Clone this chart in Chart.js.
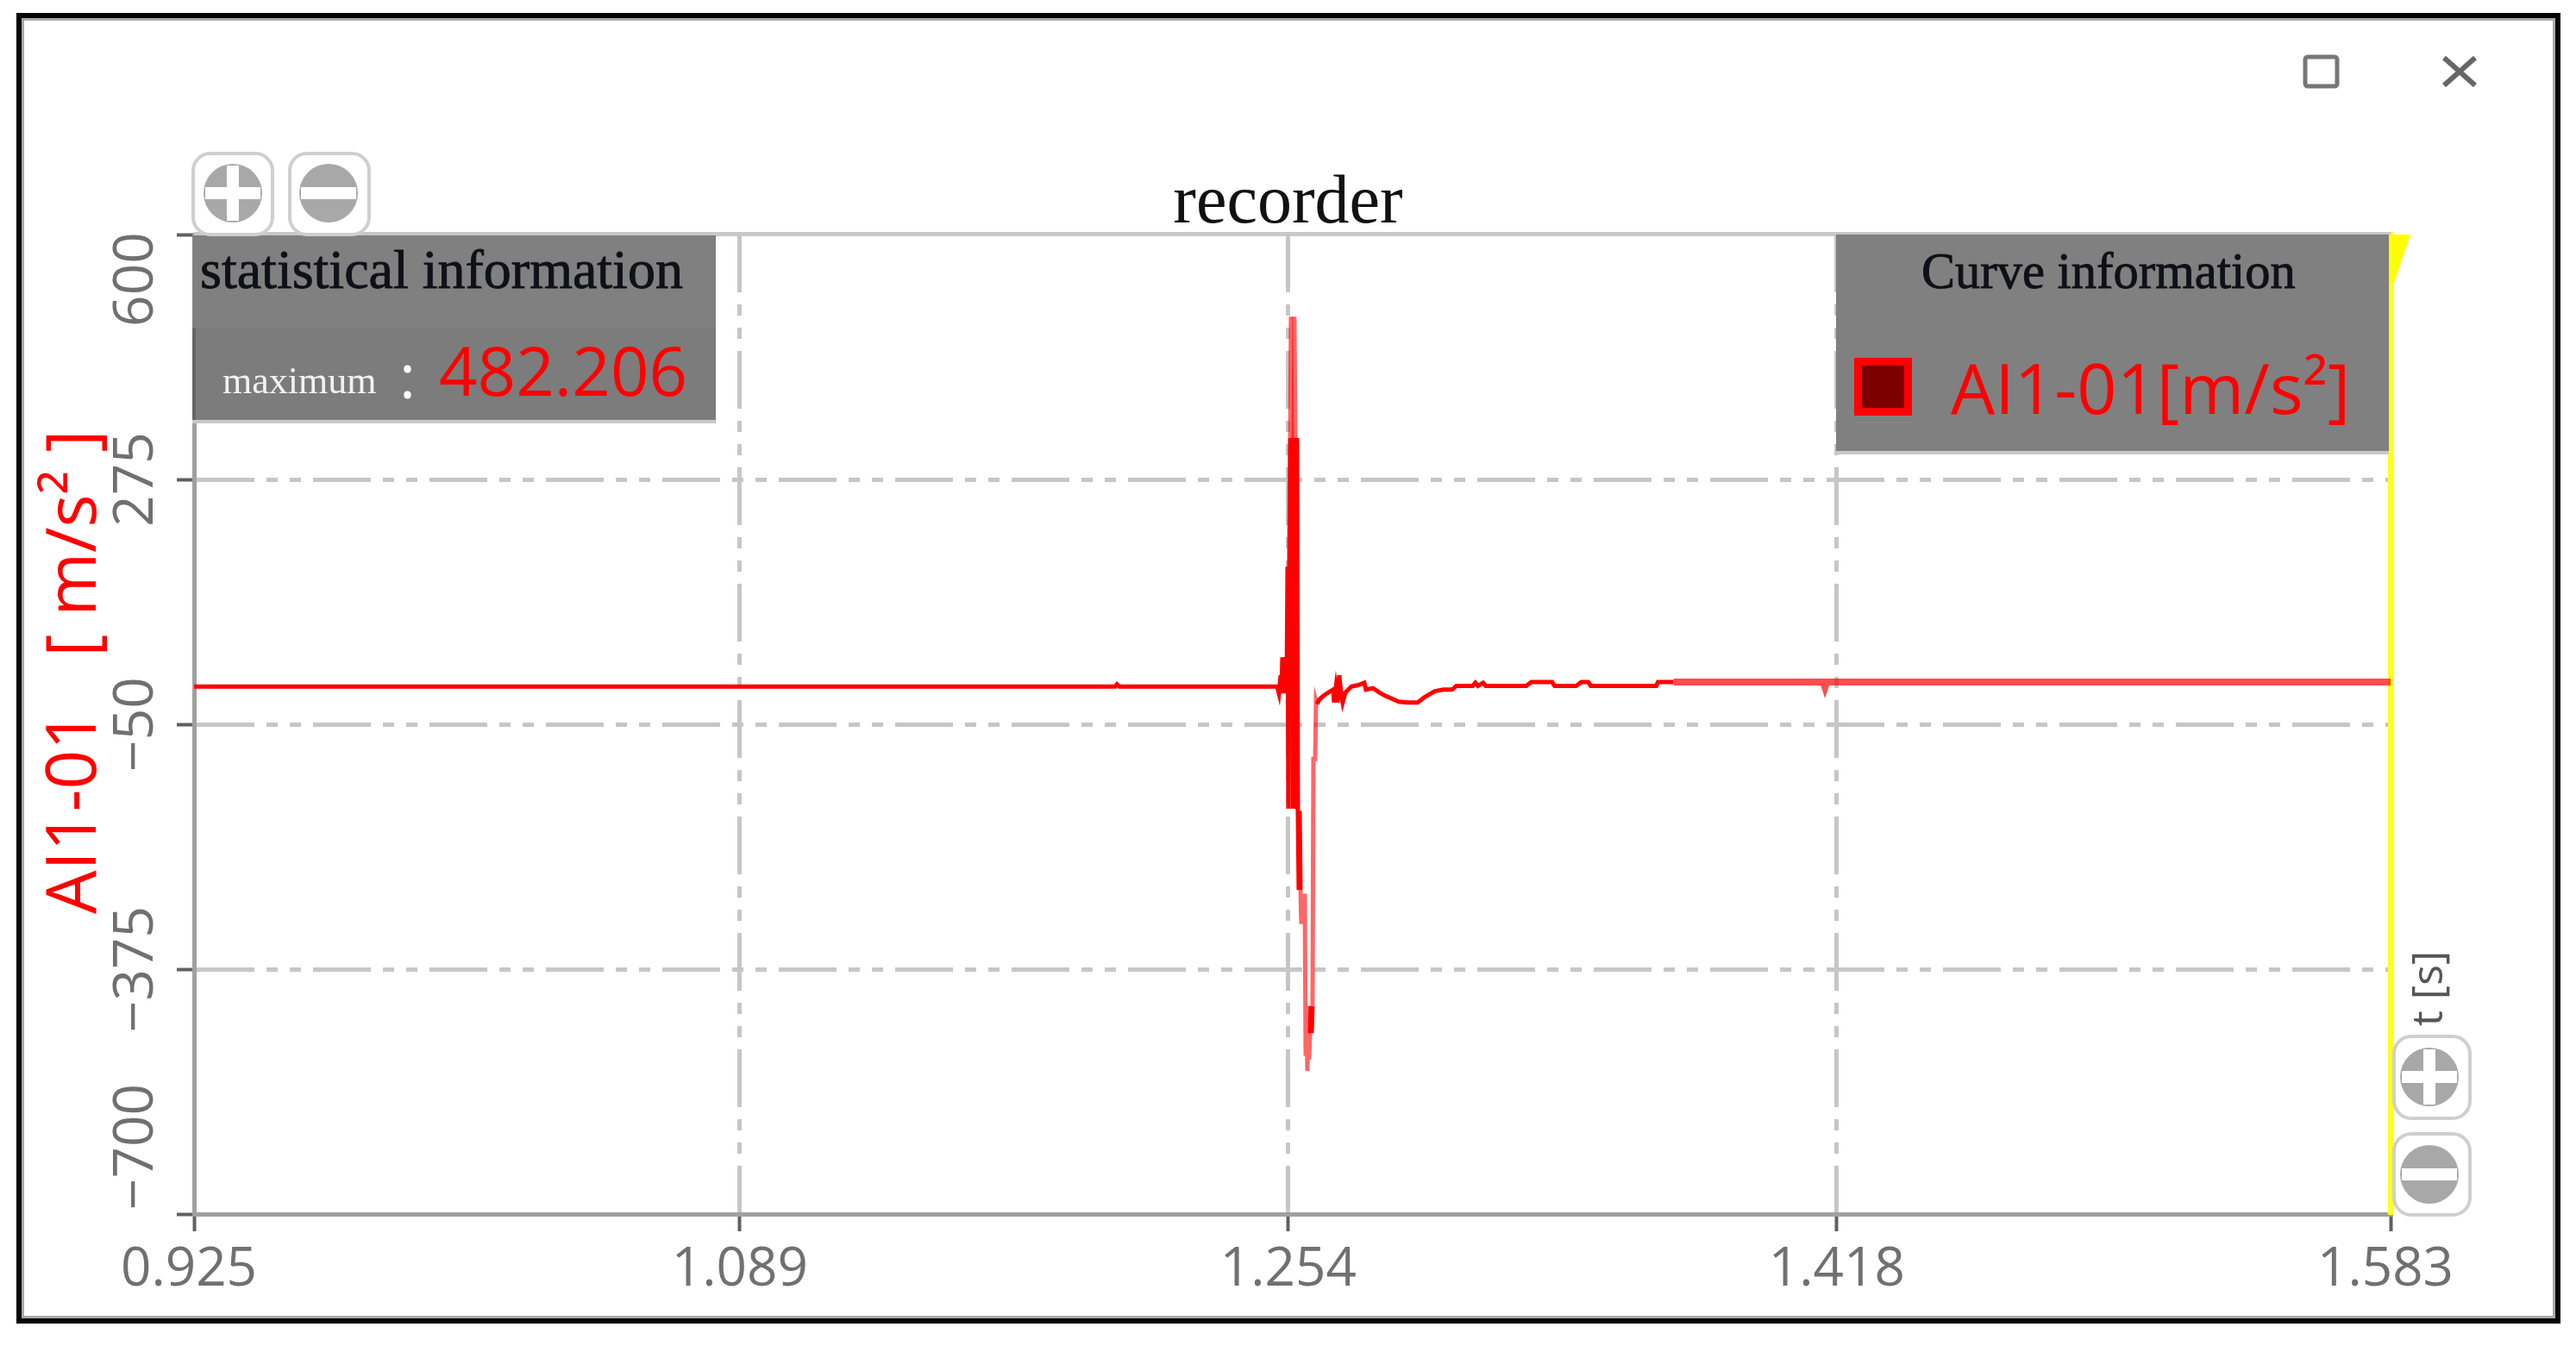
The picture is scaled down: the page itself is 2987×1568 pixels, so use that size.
<!DOCTYPE html>
<html><head><meta charset="utf-8">
<script src="https://cdn.jsdelivr.net/npm/chart.js@4"></script>
<style>
html,body{margin:0;padding:0;background:#fff;width:2987px;height:1568px;overflow:hidden}
#wrap{position:absolute;left:0;top:0;width:2987px;height:1568px}
canvas{position:absolute;left:0;top:0}
.abs{position:absolute;white-space:pre;line-height:1}
#frame{position:absolute;left:19px;top:15px;width:2938px;height:1508px;border:6px solid #050505;box-shadow:inset 0 0 0 3px #aaa;pointer-events:none}
.panel{position:absolute;background:#808080;box-shadow:0 4px 0 #c8c8c8}
.serif{font-family:"Liberation Serif",serif;color:#101018;-webkit-text-stroke:0.9px #101018}
.sans{font-family:"Open Sans",sans-serif}
svg{position:absolute;overflow:visible}
</style></head><body>
<div id="wrap">
<canvas id="c" width="2987" height="1568"></canvas>
<div class="abs" style="left:225px;top:269px;width:2547px;height:5px;background:#c8c8c8"></div>
<svg style="left:0;top:0" width="2987" height="1568"><polygon points="2769,272 2795,272 2776,328 2769,328" fill="#ffff00"/></svg>

<div class="panel" style="left:223px;top:273px;width:607px;height:214px"></div>
<div class="abs" style="left:223px;top:380px;width:607px;height:107px;background:#7c7c7c"></div>
<div class="abs" style="left:223px;top:380px;width:4px;height:107px;background:#666"></div>
<div id="statTitle" class="abs serif" style="left:232px;top:281px;font-size:64px">statistical information</div>
<div id="statName" class="abs serif" style="left:258px;top:420px;font-size:44px;color:#f2f2f2;-webkit-text-stroke:0">maximum</div>
<div id="statColon" class="abs sans" style="left:463px;top:398px;font-size:72px;color:#fff">:</div>
<div id="statVal" class="abs sans" style="left:509px;top:390px;font-size:78px;color:#ff0000">482.206</div>

<div class="panel" style="left:2129px;top:272px;width:641px;height:251px"></div>
<div id="curveTitle" class="abs serif" style="left:2228px;top:286px;font-size:58.5px">Curve information</div>
<div class="abs" style="left:2150px;top:415px;width:49px;height:49px;background:#7d0000;border:9px solid #ff0000"></div>
<div id="curveName" class="abs sans" style="left:2262px;top:408px;font-size:81px;color:#ff0000">AI1-01[m/s²]</div>

<div id="yTitle" class="abs sans" style="left:0;top:0;font-size:80px;color:#ff0000;transform-origin:0 0;transform:translate(40px,1060px) rotate(-90deg)">AI1-01   [ m/s² ]</div>
<div id="xTitle" class="abs sans" style="left:0;top:0;font-size:50px;color:#555;transform-origin:0 0;transform:translate(2788px,1190px) rotate(-90deg)">t [s]</div>
<div id="frame"></div>
<svg id="icons" style="left:0;top:0" width="2987" height="1568"></svg>
</div>
<script>
// time axis, seconds
const timeValues = [
0.925,1.20097,1.20149,1.20226,1.24948,1.24999,1.25051,1.25077,1.25102,1.25128,1.25180,1.25231,1.25257,1.25283,1.25309,
1.25335,1.25360,1.25386,1.25412,1.25438,1.25464,1.25490,1.25515,1.25541,1.25567,1.25593,1.25619,1.25645,1.25670,1.25696,
1.25722,1.25774,1.25800,1.25825,1.25851,1.25877,1.25903,1.25929,1.25955,1.25980,1.26006,1.26032,1.26084,1.26110,1.26135,
1.26213,1.26342,1.26471,1.26626,1.26651,1.26703,1.26755,1.26806,1.26858,1.26910,1.26987,1.27168,1.27374,1.27555,1.27606,
1.27813,1.28019,1.28174,1.28381,1.28587,1.28845,1.29155,1.29361,1.29671,1.29929,1.30187,1.30316,1.30806,1.30884,1.30961,
1.31116,1.31194,1.32406,1.32561,1.33180,1.33258,1.33903,1.34058,1.34264,1.34342,1.36303,1.36354,1.36793,1.36819,1.41305,
1.41357,1.41408,1.583];
// AI1-01 acceleration, m/s²
const accelValues = [
0,0,3,0,0,-9,15,-9,39,-9,39,-9,159,-162,159,
330,491,330,-162,330,491,330,-162,330,-165,-270,-165,-270,-315,-275,
-315,-275,-490,-424,-510,-424,-495,-460,-424,-460,-424,-96,-96,-19,-23,
-17,-12,-8,-4,-21,-2,-21,15,-8,-21,-8,0,2,5,-4,
-2,-8,-12,-16,-20,-21,-21,-14,-6,-4,-4,1,1,5,1,
5,1,1,6,6,1,1,6,6,1,1,6,6,6,6,
-1,6,6];
const xTickValues = [0.925,1.0885,1.2528,1.4171,1.583];
const xTickLabels = ["0.925","1.089","1.254","1.418","1.583"];
const yTickValues = [600,275,-50,-375,-700];
const yTickLabels = ["600","275","\u221250","\u2212375","\u2212700"];
const seriesName = "AI1-01";
const chartTitle = "recorder";

const points = timeValues.map((t,i)=>({x:t,y:accelValues[i]}));

function segFaded(a,b,ta,tb){
  const mn=Math.min(a,b),mx=Math.max(a,b);
  if(mx>330) return true;
  if(ta>=1.26006&&tb<=1.26135) return true;
  if(mn<-272&&!(mn>=-460&&mx<=-424)) return true;
  return false;
}
const fixLabels={id:'fixLabels',beforeDraw(ch){
  const y=ch.scales.y, items=y.getLabelItems();
  const x=ch.scales.x, xItems=x.getLabelItems();
  if(!y.$shifted){
    items[0].options.translation[1]+=52;
    items[items.length-1].options.translation[1]-=78;
    xItems[0].options.translation[0]-=6;
    xItems[xItems.length-1].options.translation[0]-=6;
    y.$shifted=true;
  }
}};
const gridColor=ctx=>(ctx.index===0||ctx.index===4)?'rgba(0,0,0,0)':'#c6c6c6';
new Chart(document.getElementById('c'),{
  type:'line',
  data:{datasets:[{label:seriesName,data:points,borderColor:'#ff0000',borderWidth:5,pointRadius:0,tension:0,fill:false,
    segment:{
      borderColor:c=>segFaded(c.p0.parsed.y,c.p1.parsed.y,c.p0.parsed.x,c.p1.parsed.x)?'rgba(255,0,0,0.6)':(c.p0.parsed.x>=1.36819?'rgba(255,0,0,0.7)':'#ff0000'),
      borderWidth:c=>c.p0.parsed.x>=1.36819?8:5
    }}]},
  options:{
    responsive:false,animation:false,devicePixelRatio:1,
    layout:{padding:{top:201,right:0,left:0,bottom:0}},
    plugins:{
      legend:{display:false},tooltip:{enabled:false},
      title:{display:true,text:chartTitle,color:'#111',padding:0,font:{family:'"Liberation Serif",serif',size:80,weight:'normal',lineHeight:0.8875}}
    },
    scales:{
      x:{type:'linear',min:0.925,max:1.583,
        afterBuildTicks(s){s.ticks=xTickValues.map(v=>({value:v}));},
        afterFit(s){s.height=160;},
        ticks:{autoSkip:false,maxRotation:0,minRotation:0,padding:8,color:'#707070',font:{family:'"Open Sans",sans-serif',size:62},
          callback:(v,i)=>xTickLabels[i]},
        grid:{color:gridColor,lineWidth:5,tickLength:20,tickWidth:4,tickColor:'#606060',tickBorderDash:[]},
        border:{color:'#a0a0a0',width:5,dash:[67,14,13,14,13,14]}
      },
      y:{type:'linear',min:-700,max:600,
        afterBuildTicks(s){s.ticks=yTickValues.map(v=>({value:v}));},
        afterFit(s){s.width=225;},
        ticks:{autoSkip:false,minRotation:90,maxRotation:90,crossAlign:'center',padding:-27,color:'#707070',font:{family:'"Open Sans",sans-serif',size:64},
          callback:(v,i)=>yTickLabels[i]},
        grid:{color:gridColor,lineWidth:5,tickLength:20,tickWidth:4,tickColor:'#606060',tickBorderDash:[]},
        border:{color:'#a0a0a0',width:5,dash:[67,14,13,14,13,14]}
      },
      yEdge:{type:'linear',position:'right',min:-700,max:600,
        afterFit(s){s.width=215;},
        ticks:{display:false},
        grid:{display:false,drawTicks:false},
        border:{color:'#ffff20',width:7}
      }
    }
  },
  plugins:[fixLabels]
});
// window and zoom buttons
function btn(x,y,w,h,cx,cy,r,plus){
  let s=`<rect x="${x}" y="${y}" width="${w}" height="${h}" rx="20" fill="#fff" stroke="#cfcfcf" stroke-width="4"/>`;
  s+=`<circle cx="${cx}" cy="${cy}" r="${r}" fill="#a8a8a8"/>`;
  s+=`<rect x="${cx-r+2}" y="${cy-7}" width="${2*r-4}" height="14" fill="#fff"/>`;
  if(plus) s+=`<rect x="${cx-7}" y="${cy-r+2}" width="14" height="${2*r-4}" fill="#fff"/>`;
  return s;
}
let icons='';
icons+=btn(224,178,92,94,270,224,34,true);
icons+=btn(336,178,92,94,381,224,34,false);
icons+=btn(2776,1202,88,95,2817,1249,34,true);
icons+=btn(2776,1315,88,94,2817,1362,34,false);
icons+='<rect x="2673" y="66" width="37" height="34" rx="3" fill="none" stroke="#777" stroke-width="5"/>';
icons+='<path d="M2834 67 L2870 99 M2870 67 L2834 99" stroke="#666" stroke-width="6" fill="none"/>';
document.getElementById('icons').innerHTML=icons;
</script>
</body></html>
